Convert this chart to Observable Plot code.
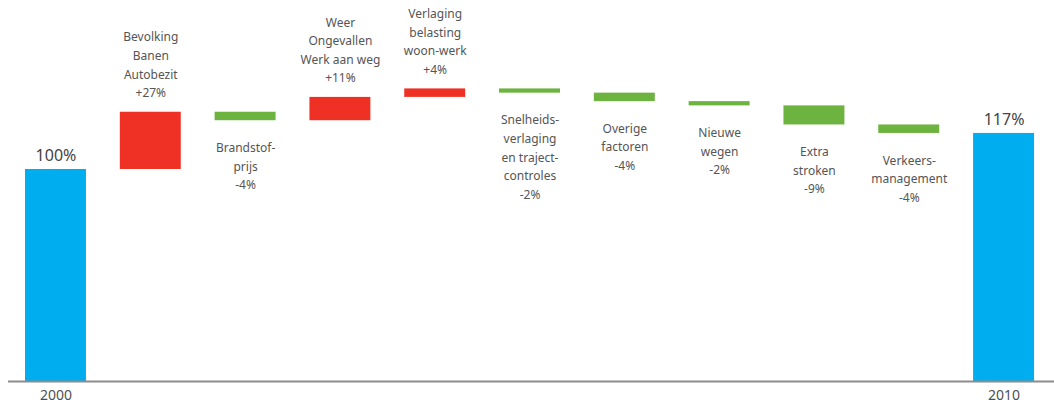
<!DOCTYPE html>
<html>
<head>
<meta charset="utf-8">
<script src="https://cdn.jsdelivr.net/npm/d3@7"></script>
<script src="https://cdn.jsdelivr.net/npm/@observablehq/plot@0.6"></script>
<style>
  html, body { margin: 0; padding: 0; background: #fff; }
  #chart svg { display: block; }
  #chart g[aria-label="labels"] text { font-variant-numeric: oldstyle-nums; font-feature-settings: "onum" 1; }
</style>
</head>
<body>
<div id="chart"></div>
<script>
// Categories (keys), display labels and changes (percentage points)
const categories = ["2000", "Bevolking", "Brandstof", "Weer", "Verlaging", "Snelheid", "Overige", "Nieuwe", "Extra", "Verkeers", "2010"];
const labels = [
  "2000",
  "Bevolking\nBanen\nAutobezit\n+27%",
  "Brandstof-\nprijs\n-4%",
  "Weer\nOngevallen\nWerk aan weg\n+11%",
  "Verlaging\nbelasting\nwoon-werk\n+4%",
  "Snelheids-\nverlaging\nen traject-\ncontroles\n-2%",
  "Overige\nfactoren\n-4%",
  "Nieuwe\nwegen\n-2%",
  "Extra\nstroken\n-9%",
  "Verkeers-\nmanagement\n-4%",
  "2010"
];
const changes = [100, 27, -4, 11, 4, -2, -4, -2, -9, -4, 117];
const types = ["total", "up", "down", "up", "up", "down", "down", "down", "down", "down", "total"];
const totalLabels = ["100%", "", "", "", "", "", "", "", "", "", "117%"];

// Build waterfall table
let running = 0;
const data = categories.map((c, i) => {
  let y1, y2;
  if (types[i] === "total") { y1 = 0; y2 = changes[i]; running = changes[i]; }
  else { y1 = running; y2 = running + changes[i]; running = y2; }
  return { key: c, label: labels[i], type: types[i], y1, y2, lo: Math.min(y1, y2), hi: Math.max(y1, y2), total: totalLabels[i] };
});

const colors = { total: "#00aeef", up: "#ee3124", down: "#6db33f" };
const textColor = "#555555";
const font = "Noto Sans, Open Sans, sans-serif";

const chart = Plot.plot({
  width: 1054,
  height: 405,
  marginLeft: 8,
  marginRight: 0,
  marginTop: 0,
  marginBottom: 24,
  style: { fontFamily: font, background: "#fff" },
  x: { domain: categories, axis: null, paddingInner: 0.357, paddingOuter: 0.195, align: 0.46, round: false },
  y: { domain: [0, 179.7], axis: null },
  marks: [
    Plot.barY(data, { x: "key", y1: "y1", y2: "y2", fill: d => colors[d.type] }),
    Plot.ruleY([0], { stroke: "#8c8c8c", strokeWidth: 2 }),
    // labels above increases
    Plot.text(data.filter(d => d.type === "up"), {
      x: "key", y: "hi", text: "label", lineAnchor: "bottom", dy: -15,
      fill: textColor, fontSize: 12, lineHeight: 1.55, ariaLabel: "labels"
    }),
    // labels below decreases
    Plot.text(data.filter(d => d.type === "down"), {
      x: "key", y: "lo", text: "label", lineAnchor: "top", dy: 18,
      fill: textColor, fontSize: 12, lineHeight: 1.55, ariaLabel: "labels"
    }),
    // totals
    Plot.text(data.filter(d => d.type === "total"), {
      x: "key", y: "hi", text: "total", lineAnchor: "bottom", dy: -8,
      fill: "#444", fontSize: 16, ariaLabel: "labels"
    }),
    // year labels under axis
    Plot.text(data.filter(d => d.type === "total"), {
      x: "key", y: 0, text: "key", lineAnchor: "top", dy: 9,
      fill: "#505050", fontSize: 14
    })
  ]
});
document.getElementById("chart").appendChild(chart);
</script>
</body>
</html>
